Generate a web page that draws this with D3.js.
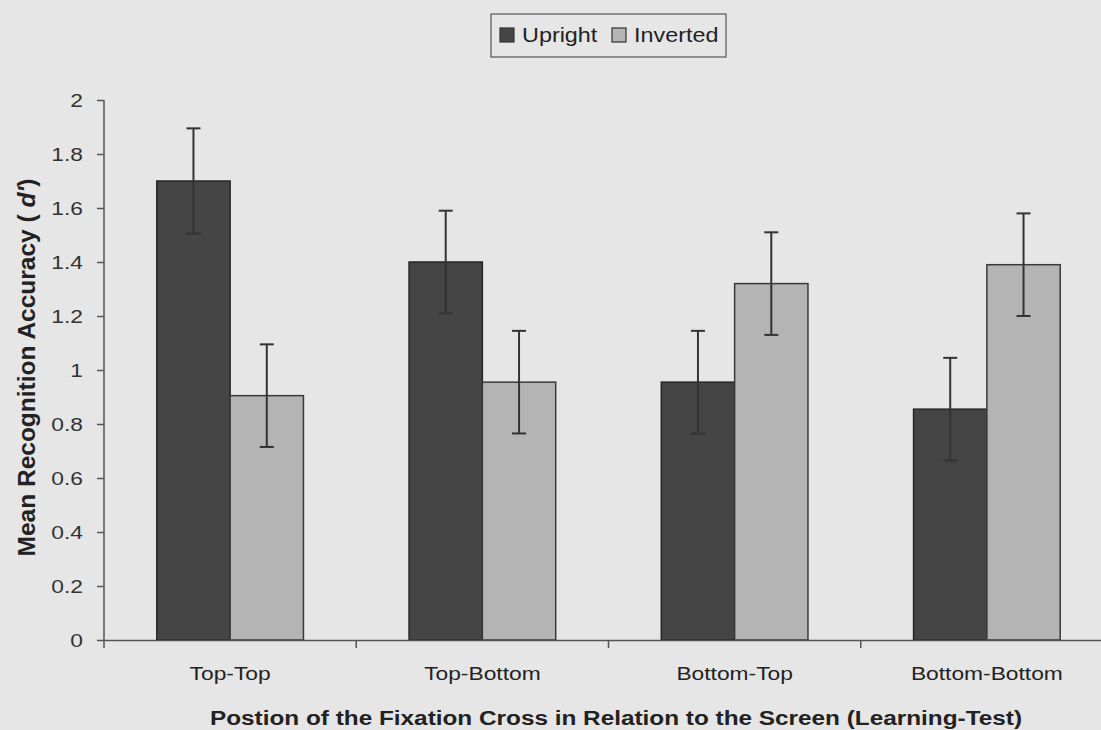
<!DOCTYPE html>
<html>
<head>
<meta charset="utf-8">
<script src="https://cdn.jsdelivr.net/npm/d3@7"></script>
<style>
  html, body { margin: 0; padding: 0; background: #e6e6e6; }
  svg { display: block; }
  text { font-family: "Liberation Sans", Arial, sans-serif; }
</style>
</head>
<body>
<svg id="chart" width="1101" height="730"></svg>
<script>
const categories = ["Top-Top", "Top-Bottom", "Bottom-Top", "Bottom-Bottom"];
const seriesNames = ["Upright", "Inverted"];
const uprightValues = [1.70, 1.40, 0.955, 0.855];
const invertedValues = [0.905, 0.955, 1.32, 1.39];
const uprightErrors = [0.195, 0.19, 0.19, 0.19];
const invertedErrors = [0.19, 0.19, 0.19, 0.19];
const yTicks = [0, 0.2, 0.4, 0.6, 0.8, 1, 1.2, 1.4, 1.6, 1.8, 2];
const yTickLabels = ["0", "0.2", "0.4", "0.6", "0.8", "1", "1.2", "1.4", "1.6", "1.8", "2"];
const xTitle = "Postion of the Fixation Cross in Relation to the Screen (Learning-Test)";

const colors = { Upright: "#454545", Inverted: "#b4b4b4" };
const strokes = { Upright: "#262626", Inverted: "#3a3a3a" };
const SX = 1.2; // horizontal stretch of the scanned figure's lettering

const svg = d3.select("#chart");
const W = 1101, H = 730;
svg.append("rect").attr("width", W).attr("height", H).attr("fill", "#e6e6e6");

const plotLeft = 104, plotRight = 1113, plotTop = 100, plotBottom = 640;

const x = d3.scaleBand().domain(categories).range([plotLeft, plotRight]).paddingInner(0).paddingOuter(0);
const xs = d3.scaleBand().domain(seriesNames).range([0, x.bandwidth()]).paddingInner(0).paddingOuter(0.72);
const y = d3.scaleLinear().domain([0, 2]).range([plotBottom, plotTop]);

const data = categories.map((c, i) => ({
  cat: c,
  vals: [
    { s: "Upright", v: uprightValues[i], e: uprightErrors[i] },
    { s: "Inverted", v: invertedValues[i], e: invertedErrors[i] }
  ]
}));

// bars
const g = svg.append("g");
const groups = g.selectAll("g.grp").data(data).join("g")
  .attr("class", "grp")
  .attr("transform", d => `translate(${x(d.cat)},0)`);

groups.selectAll("rect").data(d => d.vals).join("rect")
  .attr("x", d => xs(d.s))
  .attr("y", d => y(d.v))
  .attr("width", xs.bandwidth())
  .attr("height", d => y(0) - y(d.v))
  .attr("fill", d => colors[d.s])
  .attr("stroke", d => strokes[d.s])
  .attr("stroke-width", 1.5);

// error bars
const eb = groups.selectAll("g.err").data(d => d.vals).join("g").attr("class", "err")
  .attr("stroke", "#333").attr("stroke-width", 2);
const cx = d => xs(d.s) + xs.bandwidth() / 2;
eb.append("line")
  .attr("x1", cx).attr("x2", cx)
  .attr("y1", d => y(d.v + d.e))
  .attr("y2", d => y(d.v - d.e));
eb.append("line")
  .attr("x1", d => cx(d) - 7).attr("x2", d => cx(d) + 7)
  .attr("y1", d => y(d.v + d.e)).attr("y2", d => y(d.v + d.e));
eb.append("line")
  .attr("x1", d => cx(d) - 7).attr("x2", d => cx(d) + 7)
  .attr("y1", d => y(d.v - d.e)).attr("y2", d => y(d.v - d.e));

// y axis
const yAxis = d3.axisLeft(y).tickValues(yTicks)
  .tickFormat((d, i) => yTickLabels[i]).tickSize(7).tickPadding(14);
const yg = svg.append("g").attr("transform", `translate(${plotLeft},0)`).call(yAxis);
yg.select(".domain").attr("stroke", "#555").attr("stroke-width", 1.5).attr("d", `M0,${plotTop}V${plotBottom + 8}`);
yg.selectAll(".tick line").attr("stroke", "#555").attr("stroke-width", 1.5);
yg.selectAll(".tick text")
  .attr("font-size", 19).attr("fill", "#333")
  .attr("font-family", "Liberation Sans, Arial, sans-serif")
  .attr("x", -21 / SX)
  .attr("transform", `scale(${SX},1)`);

// x axis
const xAxis = d3.axisBottom(x).tickSize(0).tickPadding(27);
const xg = svg.append("g").attr("transform", `translate(0,${plotBottom})`).call(xAxis);
xg.select(".domain").attr("stroke", "#555").attr("stroke-width", 1.5);
xg.selectAll(".tick text")
  .attr("font-size", 19).attr("fill", "#222")
  .attr("font-family", "Liberation Sans, Arial, sans-serif")
  .attr("transform", `scale(${SX},1)`);
xg.selectAll("line.sep").data(categories.slice(1)).join("line")
  .attr("class", "sep")
  .attr("x1", d => x(d)).attr("x2", d => x(d))
  .attr("y1", 0).attr("y2", 8)
  .attr("stroke", "#555").attr("stroke-width", 1.5);

// y title
svg.append("text")
  .attr("transform", `translate(35,${(178 + 557) / 2}) rotate(-90)`)
  .attr("text-anchor", "middle")
  .attr("font-size", 23).attr("font-weight", "bold").attr("fill", "#222")
  .attr("textLength", 378).attr("lengthAdjust", "spacingAndGlyphs")
  .call(t => {
    t.append("tspan").text("Mean Recognition Accuracy ( ");
    t.append("tspan").attr("font-style", "italic").text("d'");
    t.append("tspan").text(")");
  });

// x title
svg.append("text")
  .attr("x", 616).attr("y", 725)
  .attr("text-anchor", "middle")
  .attr("font-size", 20).attr("font-weight", "bold").attr("fill", "#222")
  .attr("textLength", 812).attr("lengthAdjust", "spacingAndGlyphs")
  .text(xTitle);

// legend
const lg = svg.append("g");
lg.append("rect").attr("x", 491).attr("y", 14).attr("width", 235).attr("height", 43)
  .attr("fill", "#e6e6e6").attr("stroke", "#555").attr("stroke-width", 1.2);
const legendX = [500, 612];
seriesNames.forEach((s, i) => {
  lg.append("rect").attr("x", legendX[i]).attr("y", 28).attr("width", 14).attr("height", 14)
    .attr("fill", colors[s]).attr("stroke", "#333").attr("stroke-width", 1.2);
  lg.append("text")
    .attr("transform", `translate(${legendX[i] + 22},42) scale(${SX},1)`)
    .attr("font-size", 19.5).attr("fill", "#222").text(s);
});
</script>
</body>
</html>
